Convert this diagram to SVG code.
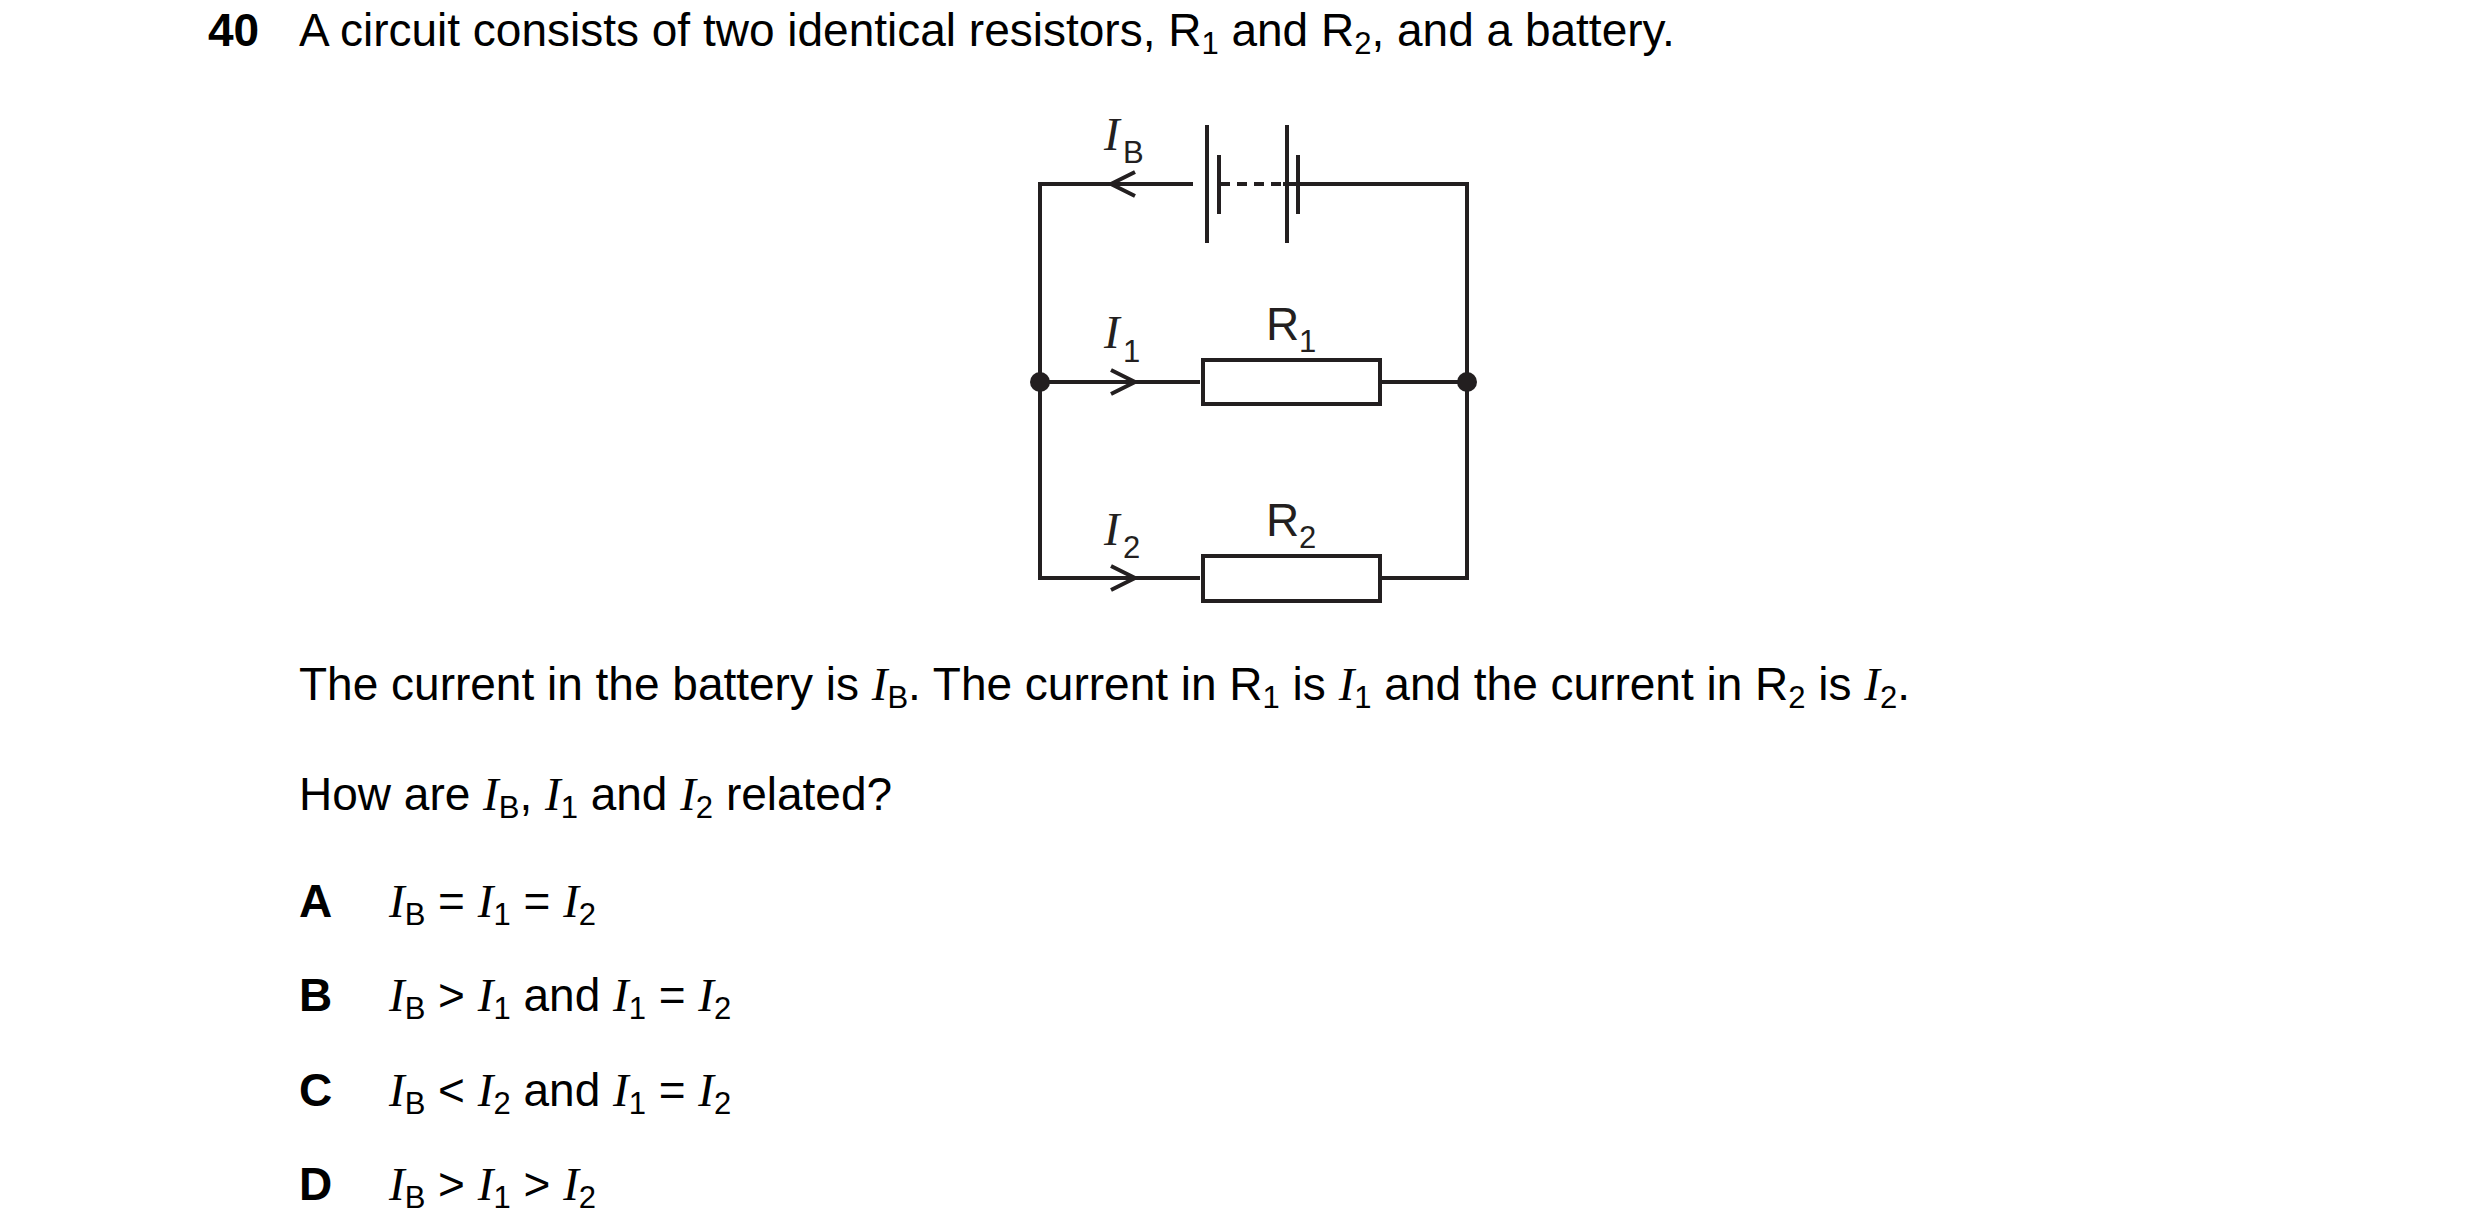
<svg xmlns="http://www.w3.org/2000/svg" width="2480" height="1230" viewBox="0 0 2480 1230">
<style>
text{font-family:"Liberation Sans",Arial,sans-serif;font-size:46px;fill:#000}
.b{font-weight:bold}
.i{font-family:"Liberation Serif","Times New Roman",serif;font-style:italic;font-size:47px}
.s{font-size:31px}
.w{stroke:#231f20;stroke-width:4;fill:none}
.lab{fill:#231f20}
</style>
<rect width="2480" height="1230" fill="#fff"/>
<text x="208" y="46" class="b">40</text>
<text x="299" y="46">A circuit consists of two identical resistors, R<tspan class="s" dy="8">1</tspan><tspan dy="-8"> and R</tspan><tspan class="s" dy="8">2</tspan><tspan dy="-8">, and a battery.</tspan></text>

<g id="connectors">
<path class="w" d="M1193,184 H1040 V578 H1200 M1283,184 H1467 V578 H1380 M1040,382 H1200 M1380,382 H1467"/>
<path class="w" d="M1135,172 L1111,184 L1135,196 M1111,370 L1135,382 L1111,394 M1111,566 L1135,578 L1111,590"/>
<path class="w" d="M1220,184 H1283" stroke-dasharray="10,7"/>
</g>
<g id="battery">
<path class="w" d="M1207,125 V243 M1219,155 V214 M1287,125 V243 M1298,155 V214"/>
<text class="i lab" x="1104" y="150">I</text><text class="s lab" x="1123" y="163">B</text>
</g>
<g id="R1">
<rect class="w" x="1203" y="360" width="177" height="44"/>
<text class="lab" x="1266" y="340">R</text><text class="s lab" x="1299" y="352">1</text>
<text class="i lab" x="1104" y="348">I</text><text class="s lab" x="1123" y="362">1</text>
</g>
<g id="R2">
<rect class="w" x="1203" y="556" width="177" height="45"/>
<text class="lab" x="1266" y="536">R</text><text class="s lab" x="1299" y="548">2</text>
<text class="i lab" x="1104" y="545">I</text><text class="s lab" x="1123" y="558">2</text>
</g>
<g id="junctions">
<circle cx="1040" cy="382" r="10" class="lab"/>
<circle cx="1467" cy="382" r="10" class="lab"/>
</g>

<text x="299" y="700">The current in the battery is <tspan class="i">I</tspan><tspan class="s" dy="8">B</tspan><tspan dy="-8">. The current in R</tspan><tspan class="s" dy="8">1</tspan><tspan dy="-8"> is </tspan><tspan class="i">I</tspan><tspan class="s" dy="8">1</tspan><tspan dy="-8"> and the current in R</tspan><tspan class="s" dy="8">2</tspan><tspan dy="-8"> is </tspan><tspan class="i">I</tspan><tspan class="s" dy="8">2</tspan><tspan dy="-8">.</tspan></text>
<text x="299" y="810">How are <tspan class="i">I</tspan><tspan class="s" dy="8">B</tspan><tspan dy="-8">, </tspan><tspan class="i">I</tspan><tspan class="s" dy="8">1</tspan><tspan dy="-8"> and </tspan><tspan class="i">I</tspan><tspan class="s" dy="8">2</tspan><tspan dy="-8"> related?</tspan></text>

<text x="299" y="917" class="b">A</text>
<text x="389" y="917"><tspan class="i">I</tspan><tspan class="s" dy="8">B</tspan><tspan dy="-8"> = </tspan><tspan class="i">I</tspan><tspan class="s" dy="8">1</tspan><tspan dy="-8"> = </tspan><tspan class="i">I</tspan><tspan class="s" dy="8">2</tspan></text>
<text x="299" y="1011" class="b">B</text>
<text x="389" y="1011"><tspan class="i">I</tspan><tspan class="s" dy="8">B</tspan><tspan dy="-8"> &gt; </tspan><tspan class="i">I</tspan><tspan class="s" dy="8">1</tspan><tspan dy="-8"> and </tspan><tspan class="i">I</tspan><tspan class="s" dy="8">1</tspan><tspan dy="-8"> = </tspan><tspan class="i">I</tspan><tspan class="s" dy="8">2</tspan></text>
<text x="299" y="1106" class="b">C</text>
<text x="389" y="1106"><tspan class="i">I</tspan><tspan class="s" dy="8">B</tspan><tspan dy="-8"> &lt; </tspan><tspan class="i">I</tspan><tspan class="s" dy="8">2</tspan><tspan dy="-8"> and </tspan><tspan class="i">I</tspan><tspan class="s" dy="8">1</tspan><tspan dy="-8"> = </tspan><tspan class="i">I</tspan><tspan class="s" dy="8">2</tspan></text>
<text x="299" y="1200" class="b">D</text>
<text x="389" y="1200"><tspan class="i">I</tspan><tspan class="s" dy="8">B</tspan><tspan dy="-8"> &gt; </tspan><tspan class="i">I</tspan><tspan class="s" dy="8">1</tspan><tspan dy="-8"> &gt; </tspan><tspan class="i">I</tspan><tspan class="s" dy="8">2</tspan></text>
</svg>
